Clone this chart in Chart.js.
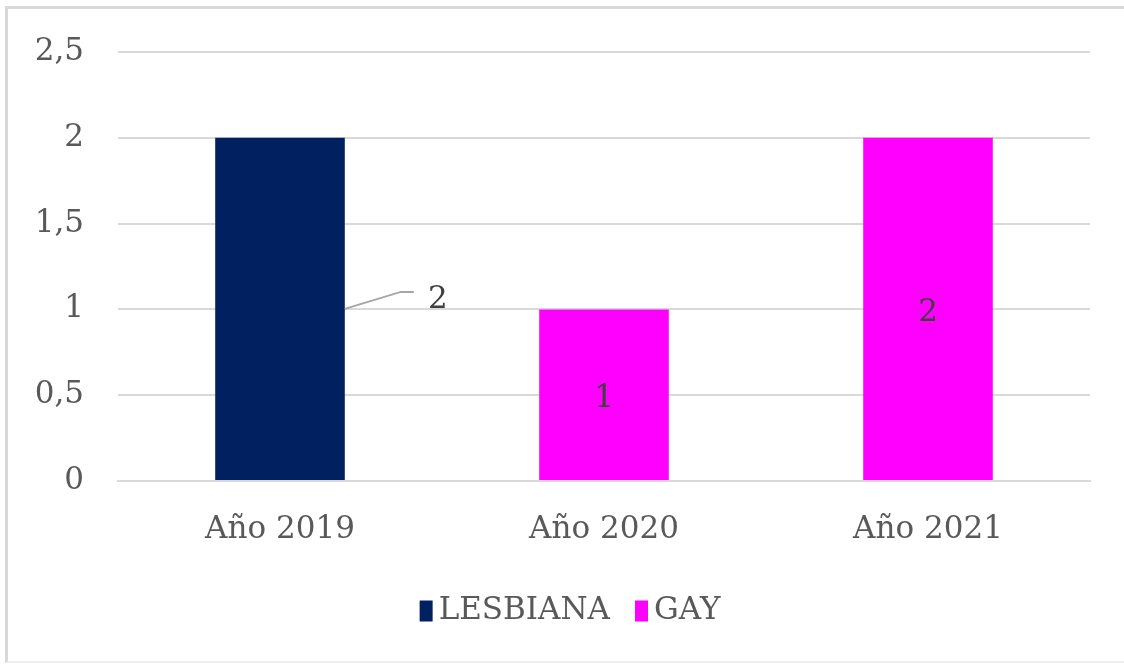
<!DOCTYPE html>
<html>
<head>
<meta charset="utf-8">
<script src="https://cdn.jsdelivr.net/npm/chart.js@4/dist/chart.umd.min.js"></script>
<style>
  html, body { margin: 0; padding: 0; background: #fff; width: 1124px; height: 664px; overflow: hidden; }
  #frame { position: absolute; left: 5px; top: 6px; width: 1130px; height: 652px;
           border-left: 3px solid #d9d9d9; border-top: 3px solid #d9d9d9; border-bottom: 2px solid #eeeeee; }
  #c { position: absolute; left: 9px; top: 9px; }
</style>
</head>
<body>
<div id="frame"></div>
<canvas id="c" width="1106" height="646"></canvas>
<script>
const categories = ["Año 2019", "Año 2020", "Año 2021"];
const seriesNames = ["LESBIANA", "GAY"];
const lesbiana = [2, null, null];
const gay = [null, 1, 2];
const yTicks = [0, 0.5, 1, 1.5, 2, 2.5];

const FONT = "'DejaVu Serif', serif";
const TEXT = '#595959';
const FS = 31;

const labelPlugin = {
  id: 'barLabels',
  afterDatasetsDraw(chart) {
    const ctx = chart.ctx;
    ctx.save();
    ctx.font = FS + 'px ' + FONT;
    ctx.fillStyle = '#404040';
    ctx.textAlign = 'center';
    ctx.textBaseline = 'middle';
    chart.data.datasets.forEach((ds, di) => {
      const meta = chart.getDatasetMeta(di);
      meta.data.forEach((bar, i) => {
        const v = ds.data[i];
        if (v === null || v === undefined) return;
        const p = bar.getProps(['x', 'y', 'base', 'width'], true);
        const midY = (p.y + p.base) / 2;
        const txt = String(v).replace('.', ',');
        if (di === 0) {
          const rx = p.x + p.width / 2;
          ctx.strokeStyle = '#a6a6a6';
          ctx.lineWidth = 2;
          ctx.beginPath();
          ctx.moveTo(rx, midY);
          ctx.lineTo(rx + 56, midY - 17);
          ctx.lineTo(rx + 69, midY - 17);
          ctx.stroke();
          ctx.fillText(txt, rx + 93, midY - 9);
        } else {
          ctx.fillText(txt, p.x, midY + 4);
        }
      });
    });
    ctx.restore();
  }
};

const legendPlugin = {
  id: 'customLegend',
  afterDraw(chart) {
    const ctx = chart.ctx;
    ctx.save();
    ctx.font = FS + 'px ' + FONT;
    ctx.textBaseline = 'middle';
    ctx.textAlign = 'left';
    const boxW = 13, boxH = 21, gapBT = 6, gapItem = 25;
    const items = chart.data.datasets.map(ds => ({ label: ds.label, color: ds.backgroundColor, w: ctx.measureText(ds.label).width }));
    const total = items.reduce((s, it) => s + boxW + gapBT + it.w, 0) + gapItem * (items.length - 1);
    const cx = (chart.chartArea.left + chart.chartArea.right) / 2 - 34;
    const cy = chart.chartArea.bottom + 129;
    let x = cx - total / 2;
    items.forEach(it => {
      ctx.fillStyle = it.color;
      ctx.fillRect(x, cy - boxH / 2 + 1, boxW, boxH);
      x += boxW + gapBT;
      ctx.fillStyle = TEXT;
      ctx.fillText(it.label, x, cy + 1);
      x += it.w + gapItem;
    });
    ctx.restore();
  }
};

new Chart(document.getElementById('c'), {
  type: 'bar',
  data: {
    labels: categories,
    datasets: [
      { label: seriesNames[0], data: lesbiana, backgroundColor: '#002060', borderWidth: 0 },
      { label: seriesNames[1], data: gay, backgroundColor: '#FF00FF', borderWidth: 0 }
    ]
  },
  options: {
    responsive: false,
    animation: false,
    devicePixelRatio: 1,
    layout: { padding: { left: 0, right: 25, top: 43, bottom: 74 } },
    datasets: { bar: { categoryPercentage: 1, barPercentage: 0.4 } },
    scales: {
      x: {
        stacked: true,
        grid: { display: false, drawTicks: false },
        border: { display: true, color: '#d9d9d9', width: 2 },
        ticks: { color: TEXT, font: { family: FONT, size: FS }, padding: 30 },
        afterFit(scale) { scale.height = 100; }
      },
      y: {
        stacked: true,
        min: 0, max: 2.5,
        afterBuildTicks(scale) { scale.ticks = yTicks.map(v => ({ value: v })); },
        grid: { color: '#d9d9d9', lineWidth: 2, drawTicks: false },
        border: { display: false },
        ticks: {
          color: TEXT, font: { family: FONT, size: FS }, padding: 34,
          callback: v => String(v).replace('.', ',')
        },
        afterFit(scale) { scale.width = 109; scale.paddingTop = 0; scale.paddingBottom = 0; }
      }
    },
    plugins: {
      legend: { display: false },
      tooltip: { enabled: false }
    }
  },
  plugins: [labelPlugin, legendPlugin]
});
</script>
</body>
</html>
